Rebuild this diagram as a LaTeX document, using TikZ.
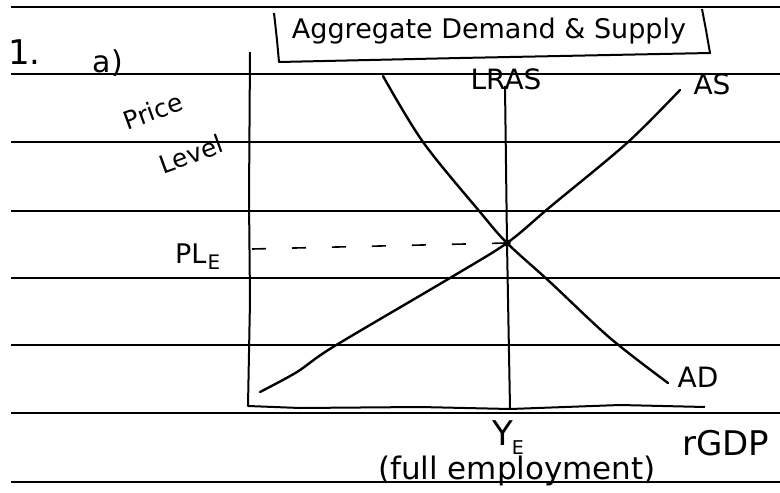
\documentclass[tikz,border=0pt]{standalone}
\usepackage{fontspec}
\setmainfont{DejaVu Sans}
\begin{document}
\begin{tikzpicture}[x=1pt,y=-1pt,
  paperline/.style={line width=2pt, black},
  axisline/.style={line width=2pt, black, line join=round},
  curveline/.style={line width=2.4pt, black, line cap=round, line join=round},
  dashline/.style={line width=1.6pt, black, dash pattern=on 14pt off 26pt},
  lbl/.style={inner sep=0pt, font=\fontsize{28}{30}\selectfont}]
\useasboundingbox (0,0) rectangle (780,493);
\fill[white] (0,0) rectangle (780,493);

% ruled paper lines
\foreach \yy/\n in {7/a,74/b,142/c,211/d,278/e,345/f,413/g,482/h}{
  \coordinate (L\n) at (11,\yy);
  \coordinate (R\n) at (780,\yy);
  \draw[paperline] (L\n) -- (R\n);
}

% title box
\coordinate (tb1) at (274,13);
\coordinate (tb2) at (279,62);
\coordinate (tb3) at (710,53);
\coordinate (tb4) at (702,9);
\draw[axisline] (tb1) -- (277,40) -- (tb2) -- (460,58) -- (tb3) -- (706,30) -- (tb4);
\node[lbl, font=\fontsize{27}{30}\selectfont, anchor=base] (title) at (489,38) {Aggregate Demand \& Supply};

% item labels
\node[lbl, font=\fontsize{34}{36}\selectfont, anchor=base west] (one) at (8,64) {1.};
\node[lbl, font=\fontsize{30}{32}\selectfont, anchor=base] (parta) at (108,72) {a)};

% axes
\coordinate (ytop) at (250,52);
\coordinate (origin) at (248,406);
\coordinate (xend) at (705,407);
\draw[axisline] (ytop) -- (249,200) -- (250,300) -- (origin) -- (300,408) -- (420,407) -- (510,409) -- (620,405) -- (xend);

\node[lbl, font=\fontsize{25}{28}\selectfont, rotate=20] (price) at (153,111) {Price};
\node[lbl, font=\fontsize{25}{28}\selectfont, rotate=20] (level) at (191,154) {Level};

% LRAS
\coordinate (lrastop) at (505,86);
\coordinate (eq) at (507,243);
\coordinate (lrasbot) at (510,408);
\draw[axisline] (lrastop) -- (eq) -- (lrasbot);
\node[lbl, anchor=center] (lras) at (506,79) {LRAS};

% AD curve
\coordinate (adtop) at (383,76);
\coordinate (adend) at (668,383);
\draw[curveline] plot[smooth, tension=0.55] coordinates {(adtop) (423,142) (480,212) (eq) (550,282) (610,338) (adend)};
\node[lbl, anchor=center] (ad) at (698,377) {AD};

% AS curve
\coordinate (asstart) at (260,392);
\coordinate (asend) at (680,90);
\draw[curveline] plot[smooth, tension=0.5] coordinates {(asstart) (297,372) (333,347) (450,278) (eq) (550,207) (627,143) (asend)};
\node[lbl, anchor=center] (as) at (712,84) {AS};

% equilibrium point
\draw[line width=1.4pt] (eq) circle (3pt);

% dashed price level line
\coordinate (plstart) at (252,249);
\draw[dashline] (plstart) -- (eq);
\node[lbl, font=\fontsize{27}{30}\selectfont, anchor=base west] (ple) at (175,263) {PL\kern1pt\raisebox{-6pt}{\fontsize{20}{20}\selectfont E}};

% x-axis labels
\node[lbl, font=\fontsize{34}{36}\selectfont, anchor=base west] (ye) at (492,445) {Y\kern-1pt\raisebox{-9pt}{\fontsize{19}{19}\selectfont E}};
\node[lbl, font=\fontsize{34}{36}\selectfont, anchor=base west] (rgdp) at (682,455) {rGDP};
\node[lbl, font=\fontsize{31}{34}\selectfont, anchor=base] (full) at (517,479) {(full employment)};
\end{tikzpicture}
\end{document}
